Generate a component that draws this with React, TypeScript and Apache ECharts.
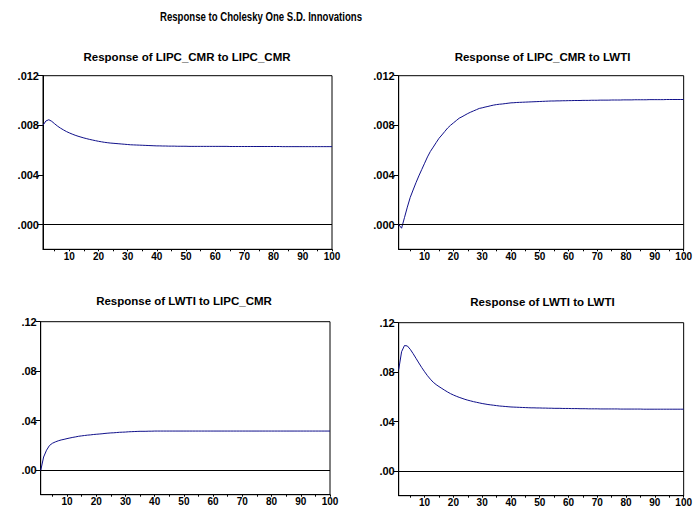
import React, { useEffect, useRef } from "react";
import * as echarts from "echarts";

// Periods 1..100
const periods: number[] = Array.from({ length: 100 }, (_, i) => i + 1);

// Response of LIPC_CMR to LIPC_CMR
const respCmrCmr: number[] = [
  0.00800, 0.00835, 0.00845, 0.00832, 0.00812, 0.00793, 0.00777, 0.00763, 0.00750, 0.00739,
  0.00729, 0.00720, 0.00712, 0.00705, 0.00698, 0.00692, 0.00686, 0.00681, 0.00676, 0.00671,
  0.00667, 0.00663, 0.00660, 0.00657, 0.00655, 0.00653, 0.00651, 0.00649, 0.00647, 0.00645,
  0.00643, 0.00642, 0.00641, 0.00640, 0.00639, 0.00638, 0.00637, 0.00636, 0.00635, 0.00634,
  0.00634, 0.00633, 0.00633, 0.00632, 0.00632, 0.00632, 0.00631, 0.00631, 0.00631, 0.00631,
  0.00630, 0.00630, 0.00630, 0.00630, 0.00630, 0.00630, 0.00630, 0.00630, 0.00630, 0.00630,
  0.00630, 0.00630, 0.00630, 0.00630, 0.00629, 0.00629, 0.00629, 0.00629, 0.00629, 0.00629,
  0.00629, 0.00629, 0.00629, 0.00629, 0.00629, 0.00629, 0.00629, 0.00629, 0.00629, 0.00629,
  0.00629, 0.00629, 0.00628, 0.00628, 0.00628, 0.00628, 0.00628, 0.00628, 0.00628, 0.00628,
  0.00628, 0.00628, 0.00628, 0.00628, 0.00628, 0.00628, 0.00628, 0.00628, 0.00628, 0.00628,
];

// Response of LIPC_CMR to LWTI
const respCmrWti: number[] = [
  0.00000, -0.00030, 0.00055, 0.00140, 0.00218, 0.00278, 0.00337, 0.00392, 0.00443, 0.00494,
  0.00545, 0.00589, 0.00624, 0.00660, 0.00695, 0.00722, 0.00750, 0.00778, 0.00800, 0.00819,
  0.00838, 0.00857, 0.00869, 0.00882, 0.00895, 0.00906, 0.00916, 0.00926, 0.00936, 0.00941,
  0.00947, 0.00952, 0.00958, 0.00963, 0.00967, 0.00970, 0.00972, 0.00975, 0.00978, 0.00981,
  0.00982, 0.00984, 0.00985, 0.00986, 0.00987, 0.00988, 0.00989, 0.00990, 0.00991, 0.00992,
  0.00993, 0.00994, 0.00995, 0.00996, 0.00996, 0.00997, 0.00997, 0.00998, 0.00998, 0.00999,
  0.00999, 0.01000, 0.01000, 0.01000, 0.01001, 0.01001, 0.01001, 0.01002, 0.01002, 0.01002,
  0.01003, 0.01003, 0.01003, 0.01003, 0.01004, 0.01004, 0.01004, 0.01004, 0.01005, 0.01005,
  0.01005, 0.01005, 0.01006, 0.01006, 0.01006, 0.01006, 0.01006, 0.01007, 0.01007, 0.01007,
  0.01007, 0.01007, 0.01007, 0.01008, 0.01008, 0.01008, 0.01008, 0.01008, 0.01008, 0.01008,
];

// Response of LWTI to LIPC_CMR
const respWtiCmr: number[] = [
  -0.0005, 0.0105, 0.0160, 0.0198, 0.0216, 0.0227, 0.0236, 0.0243, 0.0248, 0.0254,
  0.0259, 0.0264, 0.0268, 0.0273, 0.0276, 0.0279, 0.0282, 0.0284, 0.0287, 0.0289,
  0.0291, 0.0293, 0.0296, 0.0298, 0.0300, 0.0301, 0.0303, 0.0305, 0.0306, 0.0307,
  0.0309, 0.0310, 0.0311, 0.0312, 0.0313, 0.0313, 0.0313, 0.0314, 0.0314, 0.0315,
  0.0315, 0.0315, 0.0315, 0.0315, 0.0315, 0.0315, 0.0315, 0.0315, 0.0315, 0.0315,
  0.0315, 0.0315, 0.0315, 0.0315, 0.0315, 0.0315, 0.0315, 0.0315, 0.0315, 0.0315,
  0.0315, 0.0315, 0.0315, 0.0315, 0.0315, 0.0315, 0.0315, 0.0315, 0.0315, 0.0315,
  0.0315, 0.0315, 0.0315, 0.0315, 0.0315, 0.0315, 0.0315, 0.0315, 0.0315, 0.0315,
  0.0315, 0.0315, 0.0315, 0.0315, 0.0315, 0.0315, 0.0315, 0.0315, 0.0315, 0.0315,
  0.0315, 0.0315, 0.0315, 0.0315, 0.0315, 0.0315, 0.0315, 0.0315, 0.0315, 0.0315,
];

// Response of LWTI to LWTI
const respWtiWti: number[] = [
  0.0820, 0.0965, 0.1015, 0.1012, 0.0985, 0.0950, 0.0912, 0.0874, 0.0837, 0.0803,
  0.0771, 0.0743, 0.0718, 0.0699, 0.0683, 0.0668, 0.0653, 0.0639, 0.0626, 0.0615,
  0.0605, 0.0596, 0.0588, 0.0580, 0.0573, 0.0567, 0.0561, 0.0556, 0.0551, 0.0546,
  0.0542, 0.0538, 0.0535, 0.0532, 0.0529, 0.0526, 0.0524, 0.0522, 0.0520, 0.0518,
  0.0517, 0.0516, 0.0515, 0.0514, 0.0513, 0.0512, 0.0511, 0.0511, 0.0510, 0.0510,
  0.0509, 0.0509, 0.0508, 0.0508, 0.0507, 0.0507, 0.0507, 0.0506, 0.0506, 0.0506,
  0.0505, 0.0505, 0.0505, 0.0504, 0.0504, 0.0504, 0.0503, 0.0503, 0.0503, 0.0503,
  0.0502, 0.0502, 0.0502, 0.0502, 0.0502, 0.0502, 0.0502, 0.0501, 0.0501, 0.0501,
  0.0501, 0.0501, 0.0501, 0.0501, 0.0501, 0.0500, 0.0500, 0.0500, 0.0500, 0.0500,
  0.0500, 0.0500, 0.0500, 0.0500, 0.0500, 0.0500, 0.0500, 0.0500, 0.0500, 0.0500,
];

const mainTitle = "Response to Cholesky One S.D. Innovations";
const panelTitles: string[] = [
  "Response of LIPC_CMR to LIPC_CMR",
  "Response of LIPC_CMR to LWTI",
  "Response of LWTI to LIPC_CMR",
  "Response of LWTI to LWTI",
];
const xLabelTicks: number[] = [10, 20, 30, 40, 50, 60, 70, 80, 90, 100];
const xMinorTicks: number[] = [5, 10, 15, 20, 25, 30, 35, 40, 45, 50, 55, 60, 65, 70, 75, 80, 85, 90, 95, 100];
const yTicksTop: number[] = [0, 0.004, 0.008, 0.012];
const yTicksBottom: number[] = [0, 0.04, 0.08, 0.12];

const FONT = '"Liberation Sans", Arial, sans-serif';
const LINE_COLOR = "#10108a";

export default function App() {
  const ref = useRef<HTMLDivElement>(null);

  useEffect(() => {
    if (!ref.current) return;
    const chart = echarts.init(ref.current, null, { renderer: "svg" });

    const grids = [
      { left: 43, top: 75.7, width: 289, height: 173.6 },
      { left: 398.7, top: 75.7, width: 288, height: 173.6 },
      { left: 40.7, top: 321.7, width: 289.3, height: 173 },
      { left: 398.7, top: 322.7, width: 288.6, height: 173 },
    ].map((g) => ({
      ...g,
      show: true,
      borderColor: "#000",
      borderWidth: 1,
      backgroundColor: "#fff",
      containLabel: false,
    }));

    const datasets = [respCmrCmr, respCmrWti, respWtiCmr, respWtiWti];
    const yRanges = [
      { min: -0.002, max: 0.012, ticks: yTicksTop, dec: 3 },
      { min: -0.002, max: 0.012, ticks: yTicksTop, dec: 3 },
      { min: -0.02, max: 0.12, ticks: yTicksBottom, dec: 2 },
      { min: -0.02, max: 0.12, ticks: yTicksBottom, dec: 2 },
    ];

    const xAxes = grids.map((_, i) => ({
      type: "value",
      gridIndex: i,
      position: "bottom",
      min: 1,
      max: 100,
      axisLine: { show: true, onZero: false, lineStyle: { color: "#000", width: 1 } },
      axisTick: {
        show: true,
        customValues: xMinorTicks,
        length: 2,
        lineStyle: { color: "#000", width: 1 },
      },
      axisLabel: {
        show: true,
        customValues: xLabelTicks,
        margin: 2,
        color: "#000",
        fontFamily: FONT,
        fontWeight: "bold",
        fontSize: 10,
        formatter: (v: number) => String(v),
      },
      splitLine: { show: false },
    }));

    const yAxes = grids.map((_, i) => ({
      type: "value",
      gridIndex: i,
      min: yRanges[i].min,
      max: yRanges[i].max,
      axisLine: { show: true, onZero: false, lineStyle: { color: "#000", width: 1 } },
      axisTick: {
        show: true,
        customValues: yRanges[i].ticks,
        length: 5,
        lineStyle: { color: "#000", width: 1 },
      },
      axisLabel: {
        show: true,
        customValues: yRanges[i].ticks,
        margin: 4,
        color: "#000",
        fontFamily: FONT,
        fontWeight: "bold",
        fontSize: 11,
        formatter: (v: number) => v.toFixed(yRanges[i].dec).replace(/^0/, ""),
      },
      splitLine: { show: false },
    }));

    const series = datasets.map((d, i) => ({
      type: "line",
      xAxisIndex: i,
      yAxisIndex: i,
      data: d.map((v, k) => [periods[k], v]),
      showSymbol: false,
      symbol: "none",
      lineStyle: { color: LINE_COLOR, width: 1 },
      silent: true,
      markLine: {
        silent: true,
        symbol: ["none", "none"],
        label: { show: false },
        lineStyle: { color: "#000", width: 1, type: "solid" },
        data: [{ yAxis: 0 }],
        animation: false,
      },
    }));

    const titleCenters = [
      { x: 187, y: 56.5 },
      { x: 542.5, y: 56.5 },
      { x: 184, y: 301 },
      { x: 542.5, y: 302 },
    ];

    const graphic = [
      {
        type: "text",
        x: 261,
        y: 17,
        scaleX: 0.8,
        style: {
          text: mainTitle,
          fill: "#000",
          font: `bold 12px ${FONT}`,
          align: "center",
          verticalAlign: "middle",
          textAlign: "center",
          textVerticalAlign: "middle",
        },
      },
      ...panelTitles.map((t, i) => ({
        type: "text",
        x: titleCenters[i].x,
        y: titleCenters[i].y,
        style: {
          text: t,
          fill: "#000",
          font: `bold 11.5px ${FONT}`,
          align: "center",
          verticalAlign: "middle",
          textAlign: "center",
          textVerticalAlign: "middle",
        },
      })),
    ];

    chart.setOption({
      animation: false,
      backgroundColor: "#fff",
      grid: grids,
      xAxis: xAxes,
      yAxis: yAxes,
      series,
      graphic,
    } as any);

    return () => {
      chart.dispose();
    };
  }, []);

  return (
    <div
      ref={ref}
      style={{ position: "fixed", left: 0, top: 0, width: 695, height: 516, background: "#fff" }}
    />
  );
}
